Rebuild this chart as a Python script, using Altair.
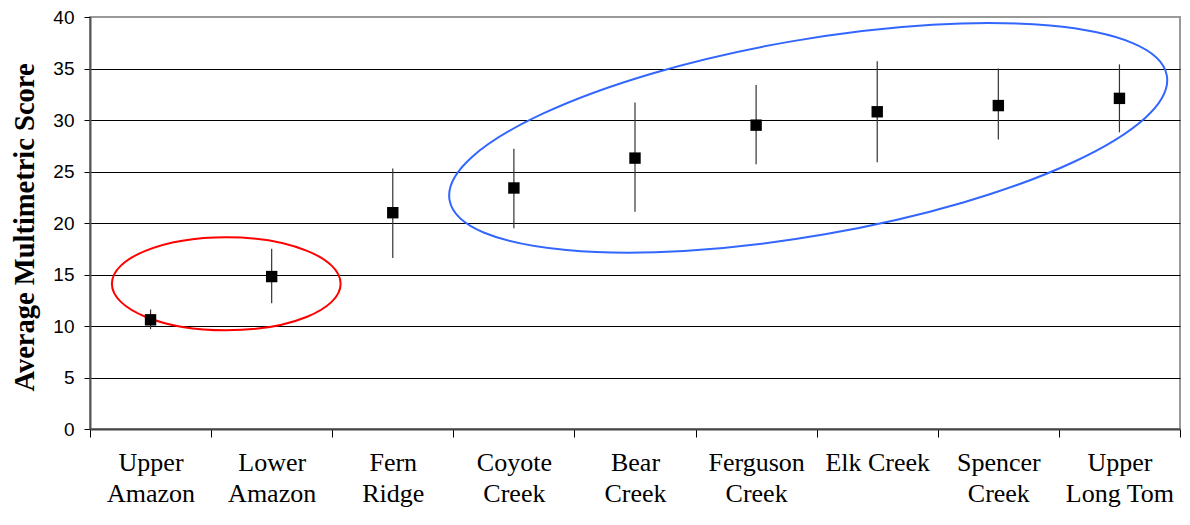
import altair as alt
import pandas as pd

# ---- data ----
sites = ["Upper\nAmazon", "Lower\nAmazon", "Fern\nRidge", "Coyote\nCreek", "Bear\nCreek",
         "Ferguson\nCreek", "Elk Creek", "Spencer\nCreek", "Upper\nLong Tom"]
means = [10.6, 14.8, 21.0, 23.4, 26.3, 29.5, 30.8, 31.4, 32.1]
upper = [11.6, 17.5, 25.3, 27.2, 31.7, 33.4, 35.7, 35.0, 35.4]
lower = [9.7, 12.2, 16.6, 19.5, 21.1, 25.7, 25.9, 28.1, 28.8]

# annotation ellipse centres (x in category units 0..9, y in score units)
red_center = [1.125, 14.1]
blue_center = [5.93, 28.27]

df = pd.DataFrame({"site": sites, "mean": means, "hi": upper, "lo": lower})

def ellipse_path(ratio):
    k = 0.5523
    r = ratio
    return (f"M -1 0 C -1 {-k*r:.4f} {-k:.4f} {-r:.4f} 0 {-r:.4f} "
            f"C {k:.4f} {-r:.4f} 1 {-k*r:.4f} 1 0 "
            f"C 1 {k*r:.4f} {k:.4f} {r:.4f} 0 {r:.4f} "
            f"C {-k:.4f} {r:.4f} -1 {k*r:.4f} -1 0 Z")

W = 1090
H = 412

yscale = alt.Scale(domain=[0, 40], nice=False, zero=True)
xband = alt.Scale(type="band", paddingInner=0, paddingOuter=0, domain=sites)

yaxis = alt.Axis(
    values=list(range(0, 41, 5)),
    title="Average Multimetric Score",
    titleFont="Liberation Serif", titleFontSize=28.5, titleFontWeight="bold",
    titleColor="black", titleAngle=270, titleX=-57, titleY=H / 2 + 4,
    titleAlign="center", titleBaseline="alphabetic",
    labelFont="Liberation Sans", labelFontSize=19, labelColor="black",
    labelPadding=10,
    tickSize=6, tickColor="black", tickWidth=1,
    domainColor="#555555", domainWidth=2,
    grid=True, gridColor="black", gridWidth=1,
    gridOpacity={"condition": {"test": "datum.value == 0 || datum.value == 40", "value": 0}, "value": 1},
)

xaxis = alt.Axis(
    title=None, tickBand="extent", tickSize=8, tickColor="black", tickWidth=1,
    domainColor="#444444", domainWidth=2,
    labelFont="Liberation Serif", labelFontSize=26, labelColor="black",
    labelAngle=0, labelPadding=12, labelLineHeight=31, labelBaseline="top",
    labelExpr="split(datum.label, '\\n')", labelOverlap=False, labelFlush=False,
    grid=False,
)

base = alt.Chart(df).encode(x=alt.X("site:N", scale=xband, axis=xaxis, sort=sites))

bars = base.mark_rule(color="#333333", strokeWidth=1.2).encode(
    y=alt.Y("lo:Q", scale=yscale, axis=yaxis), y2="hi:Q")
pts = base.mark_square(size=130, color="black", opacity=1).encode(
    y=alt.Y("mean:Q", scale=yscale, axis=yaxis))

main = alt.layer(bars, pts)

def ell(center, color, size, ratio, angle):
    d = pd.DataFrame({"ex": [center[0]], "ey": [center[1]]})
    return alt.Chart(d).mark_point(
        shape=ellipse_path(ratio), size=size, angle=angle, filled=False,
        stroke=color, strokeWidth=2, opacity=1,
    ).encode(
        x=alt.X("ex:Q", scale=alt.Scale(domain=[0, 9], nice=False, zero=False), axis=None),
        y=alt.Y("ey:Q", scale=yscale, axis=yaxis),
    )

sx = W / 1096.0
sy = H / 416.0
ells = alt.layer(
    ell(red_center, "#ff0000", (230 * sx) ** 2, 0.409 * sy / sx, 0),
    ell(blue_center, "#3366ff", (732 * sx) ** 2, 0.270 * sy / sx, 350.15),
)

chart = alt.layer(ells, main).resolve_scale(x="independent").properties(
    width=W, height=H,
    autosize=alt.AutoSizeParams(type="none"),
    padding={"left": 82, "top": 9, "right": 2, "bottom": 83},
    background="white",
).configure_view(stroke="#999999", strokeWidth=2)

chart.save("out.html", embed_options={"renderer": "svg", "actions": False})
